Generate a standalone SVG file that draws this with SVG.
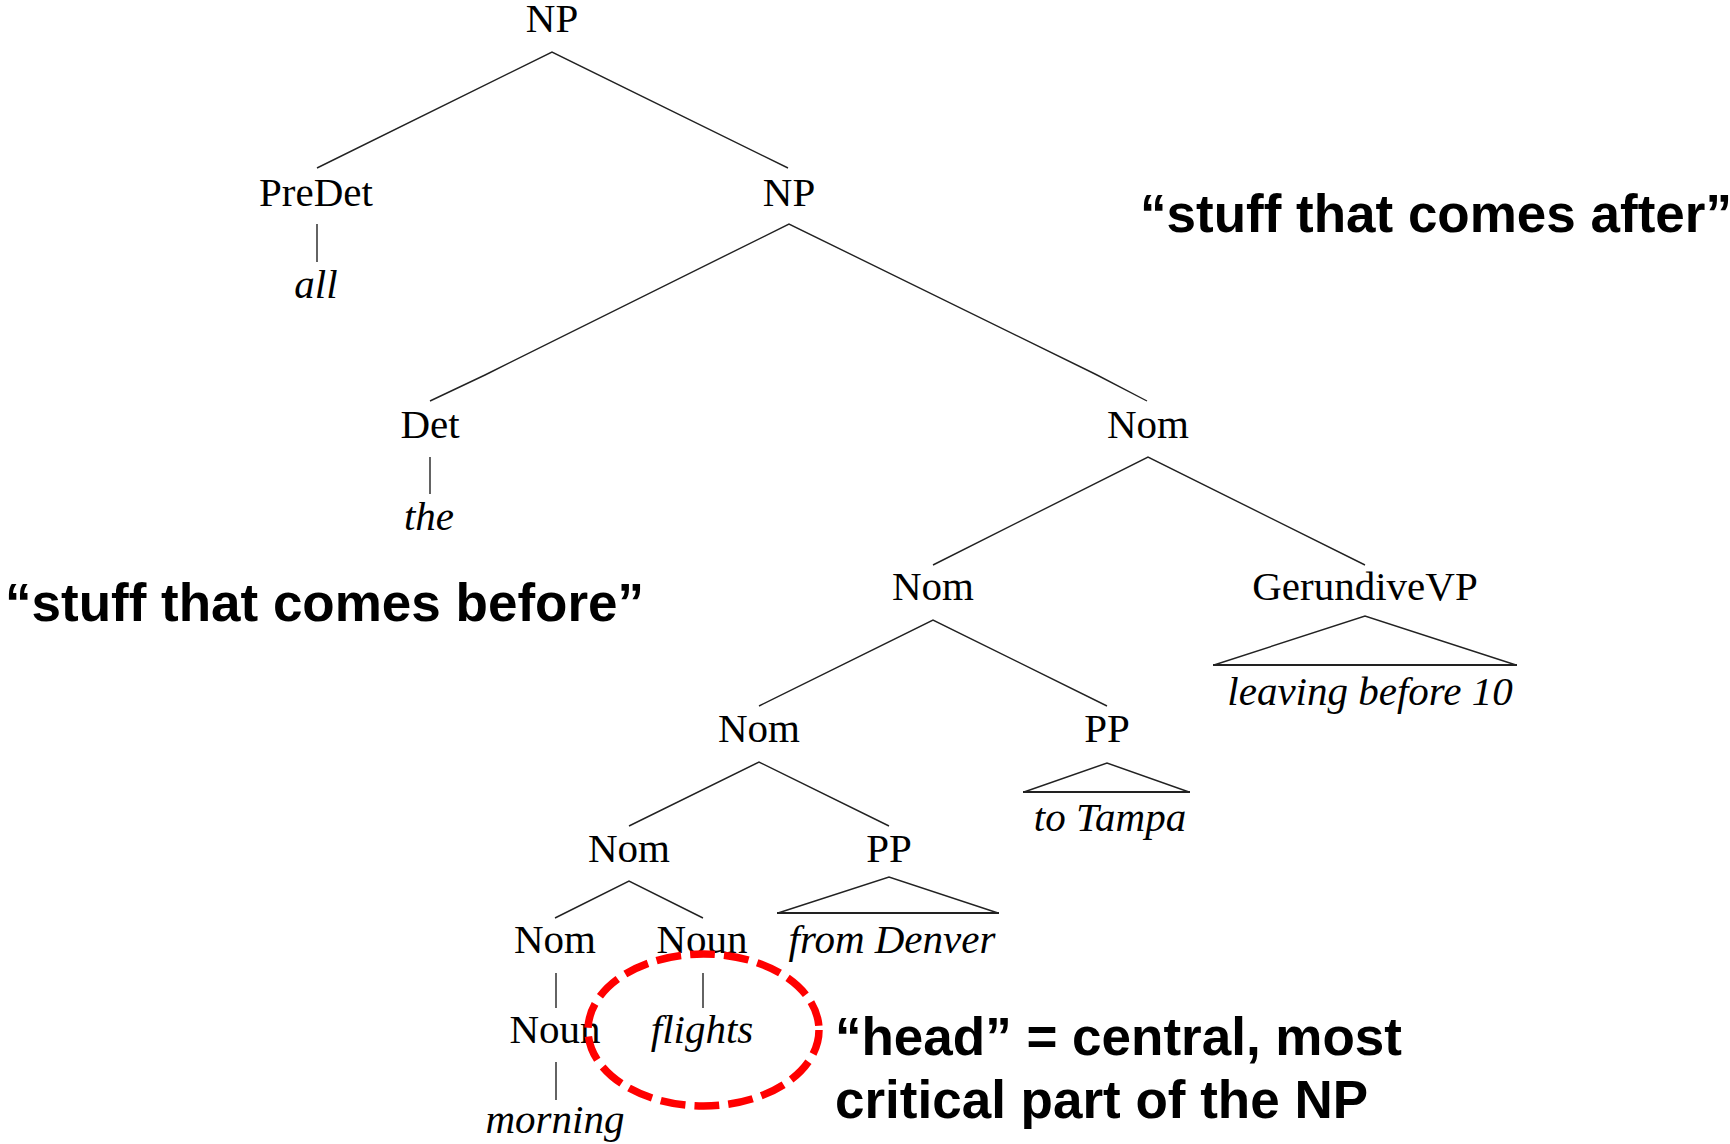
<svg xmlns="http://www.w3.org/2000/svg" width="1730" height="1144" viewBox="0 0 1730 1144">
  <style>
    .cat { font-family: "Liberation Serif", "Times New Roman", serif; font-size: 41px; fill: #000; text-anchor: middle; }
    .word { font-family: "Liberation Serif", "Times New Roman", serif; font-size: 41px; font-style: italic; fill: #000; text-anchor: middle; }
    .note { font-family: "Liberation Sans", Arial, sans-serif; font-size: 53px; font-weight: bold; fill: #000; }
    .edge { stroke: #222; stroke-width: 1.4; fill: none; }
    .base { stroke: #222; stroke-width: 2.2; fill: none; }
    .head { stroke: #f00; stroke-width: 7.5; fill: none; stroke-dasharray: 25 9; }
  </style>
  <rect width="1730" height="1144" fill="#fff"/>

  <!-- tree branches -->
  <g id="connectors">
    <polyline class="edge" points="317,168 552,52 788,168"/>
    <line class="edge" x1="317" y1="224" x2="317" y2="262"/>
    <polyline class="edge" points="430,401 485,375 489,373 789,224 1093,373 1097,375 1147,401"/>
    <line class="edge" x1="430" y1="457" x2="430" y2="494"/>
    <polyline class="edge" points="933,565 1148,457 1365,565"/>
    <polyline class="edge" points="1214,665 1365,616 1516,665"/>
    <line class="base" x1="1213" y1="665" x2="1517" y2="665"/>
    <polyline class="edge" points="759,706 933,620 1107,706"/>
    <polyline class="edge" points="1024,792 1107,763 1189,792"/>
    <line class="base" x1="1023" y1="792" x2="1190" y2="792"/>
    <polyline class="edge" points="629,826 759,762 889,826"/>
    <polyline class="edge" points="778,913 889,877 998,913"/>
    <line class="base" x1="777" y1="913" x2="999" y2="913"/>
    <polyline class="edge" points="555,918 629,881 703,918"/>
    <line class="edge" x1="556" y1="973" x2="556" y2="1008"/>
    <line class="edge" x1="703" y1="973" x2="703" y2="1008"/>
    <line class="edge" x1="556" y1="1062" x2="556" y2="1100"/>
  </g>

  <g id="np-root"><text class="cat" x="552" y="32">NP</text></g>
  <g id="predet"><text class="cat" x="316" y="206">PreDet</text></g>
  <g id="all"><text class="word" x="316" y="298">all</text></g>
  <g id="np-inner"><text class="cat" x="789" y="206">NP</text></g>
  <g id="det"><text class="cat" x="430" y="438">Det</text></g>
  <g id="the"><text class="word" x="429" y="530">the</text></g>
  <g id="nom-1"><text class="cat" x="1148" y="438">Nom</text></g>
  <g id="nom-2"><text class="cat" x="933" y="600">Nom</text></g>
  <g id="gerundive-vp"><text class="cat" x="1365" y="600">GerundiveVP</text></g>
  <g id="leaving"><text class="word" x="1370" y="705">leaving before 10</text></g>
  <g id="nom-3"><text class="cat" x="759" y="742">Nom</text></g>
  <g id="pp-1"><text class="cat" x="1107" y="742">PP</text></g>
  <g id="to-tampa"><text class="word" x="1110" y="831">to Tampa</text></g>
  <g id="nom-4"><text class="cat" x="629" y="862">Nom</text></g>
  <g id="pp-2"><text class="cat" x="889" y="862">PP</text></g>
  <g id="from-denver"><text class="word" x="892" y="953">from Denver</text></g>
  <g id="nom-5"><text class="cat" x="555" y="953">Nom</text></g>
  <g id="noun-head"><text class="cat" x="702" y="953">Noun</text></g>
  <g id="noun-mod"><text class="cat" x="555" y="1043">Noun</text></g>
  <g id="flights"><text class="word" x="702" y="1043">flights</text></g>
  <g id="morning"><text class="word" x="555" y="1133">morning</text></g>

  <!-- head marker -->
  <g id="head-circle"><ellipse class="head" cx="703.5" cy="1030" rx="115.5" ry="76"/></g>

  <!-- annotations -->
  <g id="note-after"><text class="note" x="1140" y="232">“stuff that comes after”</text></g>
  <g id="note-before"><text class="note" x="5" y="621">“stuff that comes before”</text></g>
  <g id="note-head">
    <text class="note" x="835" y="1055">“head” = central, most</text>
    <text class="note" x="835" y="1118">critical part of the NP</text>
  </g>
</svg>
